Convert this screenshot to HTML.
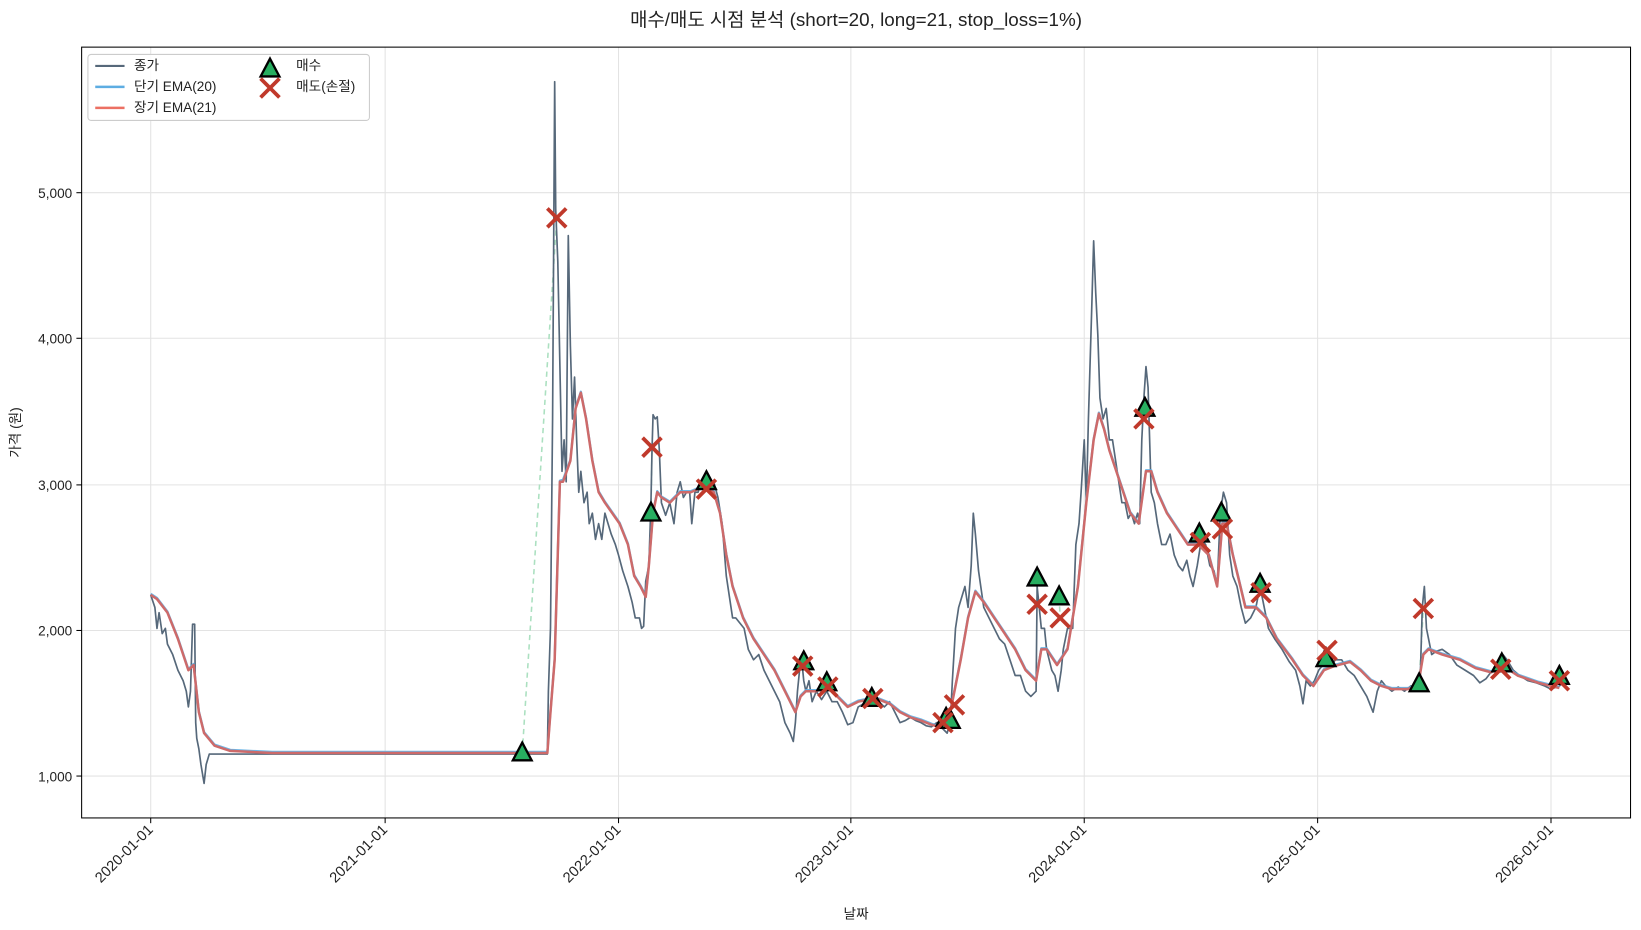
<!DOCTYPE html>
<html><head><meta charset="utf-8"><style>
html,body{margin:0;padding:0;background:#fff;}
svg{display:block;font-family:"Liberation Sans","Noto Sans CJK KR",sans-serif;}
</style></head><body>
<svg width="1641" height="930" viewBox="0 0 1568 888" preserveAspectRatio="none">
<rect width="1568" height="888" fill="#fff"/>
<text x="818" y="25" font-size="18" text-anchor="middle" fill="#222">매수/매도 시점 분석 (short=20, long=21, stop_loss=1%)</text>
<g stroke="#e3e3e3" stroke-width="1">
<line x1="144" y1="45" x2="144" y2="781"/><line x1="368" y1="45" x2="368" y2="781"/><line x1="591" y1="45" x2="591" y2="781"/><line x1="813" y1="45" x2="813" y2="781"/><line x1="1036" y1="45" x2="1036" y2="781"/><line x1="1259" y1="45" x2="1259" y2="781"/><line x1="1482" y1="45" x2="1482" y2="781"/>
<line x1="78" y1="741" x2="1558" y2="741"/><line x1="78" y1="602" x2="1558" y2="602"/><line x1="78" y1="463" x2="1558" y2="463"/><line x1="78" y1="323" x2="1558" y2="323"/><line x1="78" y1="184" x2="1558" y2="184"/>
</g>
<g stroke="#abe0c0" stroke-width="1.5" stroke-dasharray="5,4" fill="none">
<line x1="499" y1="719" x2="532" y2="208"/><line x1="622" y1="490" x2="623" y2="427"/><line x1="991" y1="552" x2="991" y2="577"/><line x1="1012" y1="570" x2="1013" y2="590"/><line x1="1356" y1="653" x2="1360" y2="581"/><line x1="904" y1="686" x2="912" y2="673"/>
</g>
<polyline fill="none" stroke="#56687a" stroke-width="1.6" stroke-linejoin="round" points="144,568 148,580 150,600 152,585 155,605 158,600 160,615 165,625 170,640 175,650 178,660 180,675 182,660 184,596 186,596 187,690 188,705 190,715 192,730 195,748 197,730 200,720 205,720 523,720 524,660 526,600 528,400 530,78 531,200 533,250 535,350 537,450 539,420 541,460 543,225 545,330 547,400 549,360 551,420 553,470 555,450 558,480 561,470 563,500 566,490 569,515 572,500 575,515 578,490 581,500 584,510 588,520 591,530 595,545 600,560 604,575 607,590 611,590 613,600 615,598 617,555 620,540 622,480 623,430 624,396 626,400 628,398 630,430 632,480 636,492 640,480 644,500 647,470 650,460 653,475 656,470 659,470 661,500 664,470 667,470 670,460 673,455 676,465 679,470 682,460 686,475 690,500 694,550 697,570 700,590 703,590 707,595 711,600 715,620 720,630 725,625 730,640 735,650 740,660 745,670 750,690 755,700 758,708 760,690 762,660 764,640 766,630 768,650 770,660 773,650 776,670 780,660 785,668 790,660 795,670 800,670 805,680 810,692 815,690 820,675 825,672 830,670 835,665 840,670 845,675 850,670 855,680 860,690 865,688 870,685 875,688 880,690 885,693 890,694 895,690 900,695 905,700 908,690 910,650 913,600 916,580 919,570 922,560 925,580 928,540 930,490 932,510 935,545 940,580 945,590 950,600 955,610 960,615 965,630 970,645 975,645 980,660 985,665 990,660 991,560 993,580 995,600 998,600 1000,620 1005,640 1008,645 1011,660 1014,640 1016,620 1020,600 1025,600 1028,520 1031,500 1033,470 1036,420 1038,480 1040,400 1043,300 1045,230 1047,280 1049,320 1051,380 1054,400 1057,390 1060,420 1063,420 1066,440 1069,460 1072,480 1075,480 1078,495 1081,490 1084,500 1087,490 1089,500 1091,420 1093,380 1095,350 1097,370 1100,470 1103,480 1106,500 1110,520 1114,520 1118,510 1122,530 1126,540 1130,545 1134,535 1137,550 1140,560 1144,540 1148,515 1152,520 1156,540 1160,545 1163,560 1166,490 1169,470 1172,480 1175,530 1178,550 1182,560 1186,580 1190,595 1195,590 1200,580 1204,560 1208,580 1212,600 1218,610 1225,620 1232,632 1238,640 1242,655 1245,672 1248,650 1252,655 1256,650 1260,640 1264,635 1268,632 1272,635 1276,630 1282,630 1288,640 1294,645 1300,655 1306,665 1312,680 1316,660 1320,650 1324,655 1330,660 1336,656 1342,660 1348,655 1354,655 1357,650 1359,580 1361,560 1363,600 1365,610 1368,625 1372,622 1378,620 1385,625 1392,635 1400,640 1408,645 1414,652 1420,648 1426,640 1432,630 1436,625 1440,630 1446,640 1452,645 1460,650 1468,652 1476,655 1482,658 1490,655 1496,650"/>
<polyline fill="none" stroke="#5dade2" stroke-width="2.2" opacity="0.9" stroke-linejoin="round" points="144,567 150,571 160,584 170,609 180,639 185,634 190,679 195,699 205,711 220,716 260,718 523,718 526,679 530,629 535,459 538,458 545,439 550,389 555,374 560,399 566,439 572,469 578,479 585,489 592,499 600,519 606,549 612,559 617,569 620,539 624,489 628,469 632,474 640,479 650,469 660,469 672,464 682,469 688,489 694,529 700,559 710,589 720,609 730,624 740,639 750,659 760,679 765,664 770,659 780,659 790,654 800,664 810,674 820,669 830,667 840,667 850,671 860,679 870,684 880,687 890,691 900,694 906,689 912,659 918,629 925,589 932,564 940,574 950,589 960,604 970,619 980,639 990,649 995,619 1000,619 1010,634 1020,619 1030,559 1038,479 1045,419 1050,394 1055,409 1060,429 1070,459 1080,489 1088,499 1095,449 1100,449 1106,469 1115,489 1125,504 1135,519 1145,519 1155,529 1163,559 1168,499 1172,499 1178,529 1190,579 1200,579 1210,589 1220,609 1235,629 1245,644 1255,654 1265,639 1275,635 1290,631 1300,639 1310,649 1320,654 1330,657 1345,657 1355,654 1360,624 1365,619 1378,624 1395,629 1410,637 1425,641 1435,634 1450,644 1470,651 1490,656"/>
<polyline fill="none" stroke="#cd6a6a" stroke-width="2.4" stroke-linejoin="round" points="144,568 150,572 160,585 170,610 180,640 185,635 190,680 195,700 205,712 220,717 260,719 523,719 526,680 530,630 535,460 538,460 545,440 550,390 555,375 560,400 566,440 572,470 578,480 585,490 592,500 600,520 606,550 612,560 617,570 620,540 624,490 628,470 632,475 640,480 650,470 660,470 672,465 682,470 688,490 694,530 700,560 710,590 720,610 730,625 740,640 750,660 760,680 765,665 770,660 780,660 790,655 800,665 810,675 820,670 830,668 840,668 850,672 860,680 870,685 880,688 890,692 900,695 906,690 912,660 918,630 925,590 932,565 940,575 950,590 960,605 970,620 980,640 990,650 995,620 1000,620 1010,635 1020,620 1030,560 1038,480 1045,420 1050,395 1055,410 1060,430 1070,460 1080,490 1088,500 1095,450 1100,450 1106,470 1115,490 1125,505 1135,520 1145,520 1155,530 1163,560 1168,500 1172,500 1178,530 1190,580 1200,580 1210,590 1220,610 1235,630 1245,645 1255,655 1265,640 1275,636 1290,632 1300,640 1310,650 1320,655 1330,658 1345,658 1355,655 1360,625 1365,620 1378,625 1395,630 1410,638 1425,642 1435,635 1450,645 1470,652 1490,657"/>
<defs>
<path id="tri" d="M0,-10 L9,7 L-9,7 Z" fill="#27ae60" stroke="#000" stroke-width="2.2" stroke-linejoin="miter"/>
<path id="xx" d="M-9,-9 L9,9 M-9,9 L9,-9" stroke="#c0392b" stroke-width="3.6"/>
</defs>
<g>
<use href="#tri" x="499" y="719"/><use href="#tri" x="622" y="490"/><use href="#tri" x="675" y="460"/><use href="#tri" x="768" y="632"/><use href="#tri" x="790" y="652"/><use href="#tri" x="833" y="667"/><use href="#tri" x="904" y="686"/><use href="#tri" x="908" y="688"/><use href="#tri" x="991" y="552"/><use href="#tri" x="1012" y="570"/><use href="#tri" x="1094" y="390"/><use href="#tri" x="1146" y="510"/><use href="#tri" x="1167" y="490"/><use href="#tri" x="1204" y="558"/><use href="#tri" x="1267" y="629"/><use href="#tri" x="1356" y="653"/><use href="#tri" x="1435" y="634"/><use href="#tri" x="1490" y="646"/>
</g>
<g>
<use href="#xx" x="532" y="208"/><use href="#xx" x="623" y="427"/><use href="#xx" x="675" y="467"/><use href="#xx" x="767" y="636"/><use href="#xx" x="791" y="656"/><use href="#xx" x="834" y="667"/><use href="#xx" x="901" y="690"/><use href="#xx" x="912" y="673"/><use href="#xx" x="991" y="577"/><use href="#xx" x="1013" y="590"/><use href="#xx" x="1093" y="400"/><use href="#xx" x="1147" y="518"/><use href="#xx" x="1168" y="505"/><use href="#xx" x="1205" y="566"/><use href="#xx" x="1268" y="621"/><use href="#xx" x="1360" y="581"/><use href="#xx" x="1434" y="639"/><use href="#xx" x="1490" y="650"/>
</g>
<rect x="78" y="45" width="1480" height="736" fill="none" stroke="#000" stroke-width="1"/>
<g stroke="#000" stroke-width="1">
<line x1="144" y1="781" x2="144" y2="786"/><line x1="368" y1="781" x2="368" y2="786"/><line x1="591" y1="781" x2="591" y2="786"/><line x1="813" y1="781" x2="813" y2="786"/><line x1="1036" y1="781" x2="1036" y2="786"/><line x1="1259" y1="781" x2="1259" y2="786"/><line x1="1482" y1="781" x2="1482" y2="786"/>
<line x1="73" y1="741" x2="78" y2="741"/><line x1="73" y1="602" x2="78" y2="602"/><line x1="73" y1="463" x2="78" y2="463"/><line x1="73" y1="323" x2="78" y2="323"/><line x1="73" y1="184" x2="78" y2="184"/>
</g>
<g font-size="13" fill="#222" text-anchor="end">
<text x="69" y="746">1,000</text><text x="69" y="607">2,000</text><text x="69" y="468">3,000</text><text x="69" y="328">4,000</text><text x="69" y="189">5,000</text>
</g>
<g font-size="14" fill="#222" text-anchor="end">
<text transform="translate(147,793) rotate(-45)">2020-01-01</text>
<text transform="translate(371,793) rotate(-45)">2021-01-01</text>
<text transform="translate(594,793) rotate(-45)">2022-01-01</text>
<text transform="translate(816,793) rotate(-45)">2023-01-01</text>
<text transform="translate(1039,793) rotate(-45)">2024-01-01</text>
<text transform="translate(1262,793) rotate(-45)">2025-01-01</text>
<text transform="translate(1485,793) rotate(-45)">2026-01-01</text>
</g>
<text x="818" y="877" font-size="13" text-anchor="middle" fill="#222">날짜</text>
<text transform="translate(19,413) rotate(-90)" font-size="13" text-anchor="middle" fill="#222">가격 (원)</text>
<rect x="84" y="52" width="269" height="63" rx="3" fill="#fff" fill-opacity="0.85" stroke="#ccc"/>
<line x1="91" y1="63" x2="119" y2="63" stroke="#56687a" stroke-width="2"/>
<line x1="91" y1="83" x2="119" y2="83" stroke="#5dade2" stroke-width="2.4"/>
<line x1="91" y1="103" x2="119" y2="103" stroke="#ec7063" stroke-width="2.4"/>
<g font-size="13" fill="#222">
<text x="128" y="67">종가</text><text x="128" y="87">단기 EMA(20)</text><text x="128" y="107">장기 EMA(21)</text>
<text x="283" y="67">매수</text><text x="283" y="87">매도(손절)</text>
</g>
<use href="#tri" x="258" y="66"/>
<use href="#xx" x="258" y="84"/>
</svg>
</body></html>
